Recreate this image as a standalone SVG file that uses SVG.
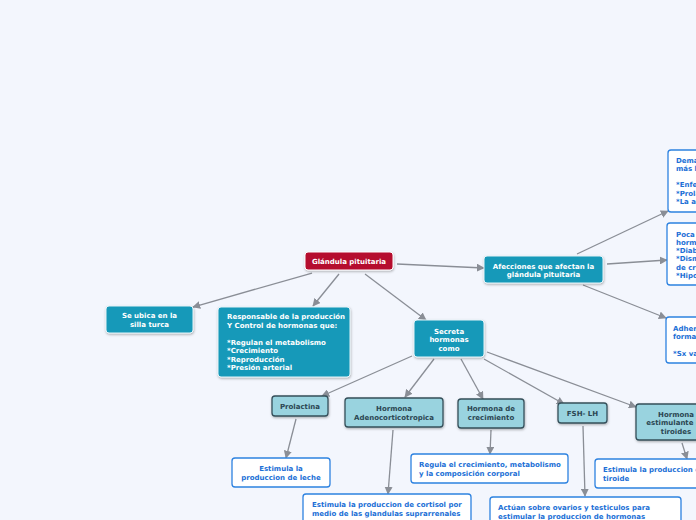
<svg xmlns="http://www.w3.org/2000/svg" width="696" height="520" viewBox="0 0 696 520">
<defs>
<style>
text{font-family:"DejaVu Sans",Verdana,sans-serif;font-weight:bold;font-size:7px}
.w{fill:#ffffff}
.b{fill:#1b6fd6}
.d{fill:#2b4652}
.m{text-anchor:middle}
.red{fill:#b5092d;stroke:#ffffff;stroke-width:1}
.teal{fill:#1299b9;stroke:#e8f4f8;stroke-width:1}
.lt{fill:#99d3df;stroke:#354f5a;stroke-width:1.3}
.wh{fill:#ffffff;stroke:#2d82e0;stroke-width:1.3}
.c line{stroke:#8a8e96;stroke-width:1.3;marker-end:url(#ah)}
</style>
<marker id="ah" viewBox="0 0 10 10" refX="9" refY="5" markerWidth="8" markerHeight="8" markerUnits="userSpaceOnUse" orient="auto">
<path d="M0,0 L10,5 L0,10 z" fill="#8a8e96"/>
</marker>
<filter id="sh" x="-10%" y="-10%" width="130%" height="140%">
<feDropShadow dx="0.5" dy="1.2" stdDeviation="0.8" flood-color="#000" flood-opacity="0.3"/>
</filter>
</defs>
<rect width="696" height="520" fill="#f3f6fd"/>
<g class="c">
<line x1="312" y1="273" x2="193" y2="307"/>
<line x1="339" y1="274" x2="313" y2="306"/>
<line x1="365" y1="274" x2="426" y2="320"/>
<line x1="397" y1="264" x2="484" y2="268"/>
<line x1="577" y1="254" x2="668" y2="211"/>
<line x1="607" y1="264" x2="667" y2="260"/>
<line x1="583" y1="285" x2="666" y2="318"/>
<line x1="412" y1="356" x2="322" y2="396"/>
<line x1="434" y1="359" x2="405" y2="397"/>
<line x1="461" y1="359" x2="483" y2="399"/>
<line x1="484" y1="359" x2="564" y2="404"/>
<line x1="487" y1="352" x2="636" y2="407"/>
<line x1="296" y1="419" x2="286" y2="458"/>
<line x1="393" y1="430" x2="388" y2="494"/>
<line x1="491" y1="430" x2="490" y2="454"/>
<line x1="583" y1="426" x2="585" y2="496"/>
<line x1="682" y1="443" x2="687" y2="459"/>
</g>
<g id="glandula">
<rect class="red" x="305" y="252" width="88" height="18" rx="3" filter="url(#sh)"/>
<text class="w m" x="349" y="263.5">Glándula pituitaria</text>
</g>
<g id="silla">
<rect class="teal" x="106" y="306" width="87" height="27" rx="3" filter="url(#sh)"/>
<text class="w m" x="149.5" y="317.5">Se ubica en la</text>
<text class="w m" x="149.5" y="326.5">silla turca</text>
</g>
<g id="responsable">
<rect class="teal" x="218" y="307" width="132" height="70" rx="3" filter="url(#sh)"/>
<text class="w" x="227" y="318.5">Responsable de la producción</text>
<text class="w" x="227" y="327.5">Y Control de hormonas que:</text>
<text class="w" x="227" y="344.5">*Regulan el metabolismo</text>
<text class="w" x="227" y="353">*Crecimiento</text>
<text class="w" x="227" y="361.5">*Reproducción</text>
<text class="w" x="227" y="370">*Presión arterial</text>
</g>
<g id="afecciones">
<rect class="teal" x="484" y="256" width="119" height="27" rx="3" filter="url(#sh)"/>
<text class="w m" x="543.5" y="268.5">Afecciones que afectan la</text>
<text class="w m" x="543.5" y="277">glándula pituitaria</text>
</g>
<g id="secreta">
<rect class="teal" x="414" y="320" width="70" height="37" rx="3" filter="url(#sh)"/>
<text class="w m" x="449" y="333.5">Secreta</text>
<text class="w m" x="449" y="342">hormonas</text>
<text class="w m" x="449" y="350.5">como</text>
</g>
<g id="demasiada">
<rect class="wh" x="668" y="150" width="120" height="62" rx="3"/>
<text class="b" x="676" y="162.5">Demasiada producción de una o</text>
<text class="b" x="676" y="171">más hormonas:</text>
<text class="b" x="676" y="187">*Enfermedad de Cushing</text>
<text class="b" x="676" y="195.5">*Prolactinoma</text>
<text class="b" x="676" y="204">*La acromegalia</text>
</g>
<g id="poca">
<rect class="wh" x="667" y="223" width="120" height="62" rx="3"/>
<text class="b" x="676" y="236.5">Poca producción de</text>
<text class="b" x="676" y="244.5">hormonas:</text>
<text class="b" x="676" y="252.5">*Diabetes insípida</text>
<text class="b" x="676" y="260.5">*Disminución de la hormona</text>
<text class="b" x="676" y="269.5">de crecimiento</text>
<text class="b" x="676" y="277.5">*Hipopituitarismo</text>
</g>
<g id="adherencias">
<rect class="wh" x="666" y="317" width="120" height="46" rx="3"/>
<text class="b" x="673" y="330.5">Adherencias que se</text>
<text class="b" x="673" y="339">forman en la silla turca</text>
<text class="b" x="673" y="355.5">*Sx vacía</text>
</g>
<g id="prolactina">
<rect class="lt" x="272" y="396" width="56" height="20" rx="3" filter="url(#sh)"/>
<text class="d m" x="300" y="408.5">Prolactina</text>
</g>
<g id="adeno">
<rect class="lt" x="345" y="398" width="98" height="29" rx="3" filter="url(#sh)"/>
<text class="d m" x="394" y="410.5">Hormona</text>
<text class="d m" x="394" y="419.5">Adenocorticotropica</text>
</g>
<g id="crecimiento">
<rect class="lt" x="458" y="399" width="66" height="29" rx="3" filter="url(#sh)"/>
<text class="d m" x="491" y="411">Hormona de</text>
<text class="d m" x="491" y="420">crecimiento</text>
</g>
<g id="fsh">
<rect class="lt" x="558" y="403" width="49" height="20" rx="3" filter="url(#sh)"/>
<text class="d m" x="582.5" y="415.5">FSH- LH</text>
</g>
<g id="tsh">
<rect class="lt" x="636" y="404" width="80" height="36" rx="3" filter="url(#sh)"/>
<text class="d m" x="676" y="416.5">Hormona</text>
<text class="d m" x="676" y="425">estimulante de</text>
<text class="d m" x="676" y="433.5">tiroides</text>
</g>
<g id="leche">
<rect class="wh" x="232" y="458" width="98" height="29" rx="3"/>
<text class="b m" x="281" y="471">Estimula la</text>
<text class="b m" x="281" y="480">produccion de leche</text>
</g>
<g id="cortisol">
<rect class="wh" x="303" y="494" width="168" height="32" rx="3"/>
<text class="b" x="312" y="506.5">Estimula la produccion de cortisol por</text>
<text class="b" x="312" y="515.5">medio de las glandulas suprarrenales</text>
</g>
<g id="regula">
<rect class="wh" x="411" y="454" width="157" height="29" rx="3"/>
<text class="b" x="419" y="466.5">Regula el crecimiento, metabolismo</text>
<text class="b" x="419" y="475.5">y la composición corporal</text>
</g>
<g id="actuan">
<rect class="wh" x="490" y="497" width="191" height="32" rx="3"/>
<text class="b" x="498" y="509.5">Actúan sobre ovarios y testiculos para</text>
<text class="b" x="498" y="518.5">estimular la produccion de hormonas</text>
</g>
<g id="tiroide">
<rect class="wh" x="595" y="459" width="140" height="29" rx="3"/>
<text class="b" x="603" y="471.5">Estimula la produccion de hormona</text>
<text class="b" x="603" y="480.5">tiroide</text>
</g>
</svg>
